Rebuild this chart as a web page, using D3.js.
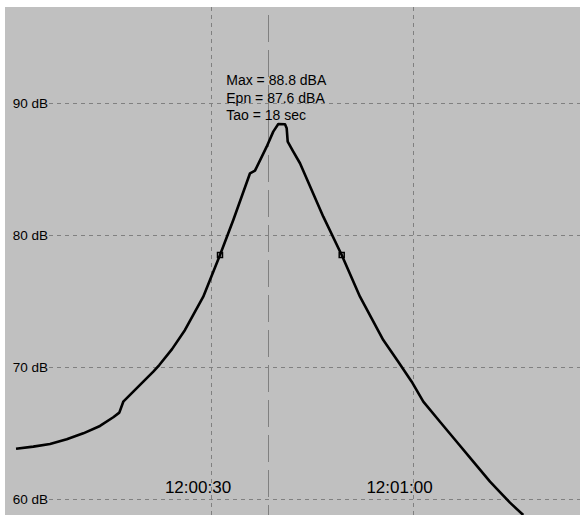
<!DOCTYPE html>
<html>
<head>
<meta charset="utf-8">
<script src="https://cdn.jsdelivr.net/npm/d3@7"></script>
<style>
  html, body { margin: 0; padding: 0; background: #ffffff; }
  svg { display: block; }
  text { font-family: Arial, "Liberation Sans", sans-serif; fill: #000; }
</style>
</head>
<body>
<svg id="chart" width="580" height="515"></svg>
<script>
// ---- data (seconds after 12:00:00, level in dB) ----
const timeSec = [0.97, 3.54, 6.03, 8.52, 10.99, 13.47, 15.45, 16.35, 16.94, 18.43,
  19.92, 21.41, 22.30, 24.20, 26.13, 28.85, 31.34, 33.32, 35.81, 36.55, 38.29,
  39.27, 40.02, 41.02, 41.27, 41.42, 42.25, 43.25, 46.72, 49.46, 52.18,
  55.65, 57.88, 59.88, 61.61, 64.09, 66.58, 69.05, 71.54, 73.02, 74.51, 76.49];
const levelDb = [63.79, 63.95, 64.15, 64.51, 64.96, 65.52, 66.18, 66.53, 67.36, 68.12,
  68.88, 69.64, 70.14, 71.35, 72.80, 75.33, 78.49, 81.15, 84.69, 84.89, 86.71,
  87.85, 88.43, 88.41, 88.10, 87.09, 86.33, 85.45, 81.40, 78.49, 75.33,
  72.04, 70.39, 68.88, 67.36, 65.84, 64.32, 62.81, 61.29, 60.50, 59.70, 58.76];
const markerSec = [31.34, 49.46];
const markerDb = [78.49, 78.49];
const peakMarkerSec = 38.53;
const yTicks = [60, 70, 80, 90];
const xTicksSec = [30, 60];
const infoLines = ["Max = 88.8 dBA", "Epn = 87.6 dBA", "Tao = 18 sec"];

// ---- layout ----
const W = 580, H = 515;
const panel = {left: 5, top: 7, right: 580, bottom: 515};
const base = new Date(2000, 0, 1, 12, 0, 0);
const toDate = s => new Date(base.getTime() + s * 1000);

const x = d3.scaleTime().domain([toDate(30), toDate(60)]).range([211, 412.5]);
const y = d3.scaleLinear().domain([60, 90]).range([498.7, 103.3]);

const svg = d3.select("#chart");

svg.append("rect")
  .attr("x", panel.left).attr("y", panel.top)
  .attr("width", panel.right - panel.left).attr("height", panel.bottom - panel.top)
  .attr("fill", "#c0c0c0");

svg.append("clipPath").attr("id", "clip")
  .append("rect")
  .attr("x", panel.left).attr("y", panel.top)
  .attr("width", panel.right - panel.left).attr("height", panel.bottom - panel.top);

// y axis with horizontal dashed grid
const gridLeft = 49;
const yAxis = d3.axisLeft(y)
  .tickValues(yTicks)
  .tickFormat(d => d + " dB")
  .tickSize(-(W - gridLeft))
  .tickPadding(1);
const gy = svg.append("g").attr("transform", `translate(${gridLeft},0)`).call(yAxis);
gy.select(".domain").remove();
gy.selectAll(".tick line")
  .attr("stroke", "#808080").attr("stroke-width", 1)
  .attr("stroke-dasharray", "4,4").attr("shape-rendering", "crispEdges");
gy.selectAll(".tick text")
  .attr("font-size", "13.5px").attr("font-family", "Arial, 'Liberation Sans', sans-serif")
  .attr("fill", "#000");

// x axis with vertical dashed grid
const xAxis = d3.axisBottom(x)
  .tickValues(xTicksSec.map(toDate))
  .tickFormat(d3.timeFormat("%H:%M:%S"))
  .tickSize(-(panel.bottom - panel.top));
const gx = svg.append("g").attr("transform", `translate(0,${panel.bottom})`).call(xAxis);
gx.select(".domain").remove();
gx.selectAll(".tick line")
  .attr("stroke", "#808080").attr("stroke-width", 1)
  .attr("stroke-dasharray", "4,4").attr("shape-rendering", "crispEdges");
gx.selectAll(".tick text")
  .attr("font-size", "17px").attr("font-family", "Arial, 'Liberation Sans', sans-serif")
  .attr("fill", "#000")
  .attr("dy", null).attr("y", -22).attr("x", -13.5);

// peak marker (long dash)
svg.append("line")
  .attr("x1", Math.round(x(toDate(peakMarkerSec))) + 0.5)
  .attr("x2", Math.round(x(toDate(peakMarkerSec))) + 0.5)
  .attr("y1", 15).attr("y2", panel.bottom)
  .attr("stroke", "#808080").attr("stroke-width", 1)
  .attr("stroke-dasharray", "27,8");

// annotation text
const info = svg.append("g");
info.selectAll("text").data(infoLines).join("text")
  .attr("x", x(toDate(peakMarkerSec)) - 42)
  .attr("y", (d, i) => 85 + i * 17.5)
  .attr("font-size", "14px")
  .text(d => d);

// level curve
const pts = timeSec.map((t, i) => [t, levelDb[i]]);
const line = d3.line()
  .x(d => x(toDate(d[0])))
  .y(d => y(d[1]))
  .curve(d3.curveLinear);
svg.append("path")
  .attr("clip-path", "url(#clip)")
  .attr("d", line(pts))
  .attr("fill", "none")
  .attr("stroke", "#000")
  .attr("stroke-width", 2.6)
  .attr("stroke-linejoin", "round");

// 10 dB-down markers
svg.selectAll("rect.mk").data(markerSec.map((t, i) => [t, markerDb[i]])).join("rect")
  .attr("class", "mk")
  .attr("x", d => x(toDate(d[0])) - 2.5)
  .attr("y", d => y(d[1]) - 2.5)
  .attr("width", 5).attr("height", 5)
  .attr("fill", "none").attr("stroke", "#000").attr("stroke-width", 1.5);
</script>
</body>
</html>
